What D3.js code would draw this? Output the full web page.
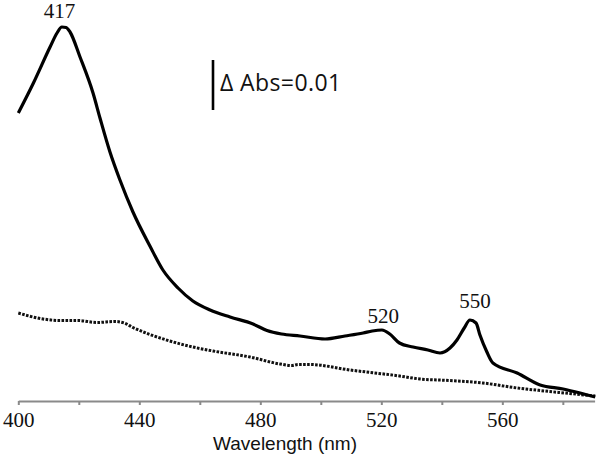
<!DOCTYPE html>
<html lang="en">
<head>
    <meta charset="UTF-8">
    <title>Spectrum</title>
    <script type="text/javascript" src="https://cdn.jsdelivr.net/npm/d3@7/dist/d3.min.js"></script>
    <style>
        body { margin: 0; background: #fff; }
        .axis path,
        .axis line {
            fill: none;
            stroke: #8a8a8a;
            stroke-width: 2;
        }
        .axis text {
            font-family: "Liberation Serif", serif;
            font-size: 21px;
            fill: #111;
        }
    </style>
</head>
<body>
<script type="text/javascript">
    let width = 600;
    let height = 462;

    // wavelength (nm) / absorbance
    let solidNm = [400, 405, 410.5, 412.8, 414.4, 415.8, 417.1, 420.4, 424.7, 427, 430.3, 433.6, 437.9,
        443.5, 447.8, 452.8, 457.7, 463.4, 470, 477.6, 482.2, 487, 493.1, 501.4, 508, 514, 517, 520.2,
        522.8, 526, 530.5, 535.4, 539.4, 542.7, 545, 547.4, 549.3, 551.3, 552.6, 554.9, 556.9,
        564.9, 572.5, 580.1, 585.7, 590.7];
    let solidAbs = [0.0576, 0.0636, 0.0708, 0.0736, 0.0748, 0.0747, 0.0738, 0.0688, 0.0616, 0.0566, 0.0498, 0.0442, 0.0378,
        0.0310, 0.0262, 0.0226, 0.0200, 0.0182, 0.0168, 0.0154, 0.0141, 0.0134, 0.0130, 0.0124, 0.0130, 0.0136, 0.0140, 0.0142,
        0.0134, 0.0116, 0.0108, 0.0102, 0.0096, 0.0106, 0.0122, 0.0146, 0.0162, 0.0156, 0.0132, 0.0098, 0.0076,
        0.0056, 0.0032, 0.0024, 0.0016, 0.0008];

    let dottedNm = [400, 408.2, 413.8, 419.7, 426, 432, 435, 437.9, 443.5, 450.1, 457.7, 464.4, 476.6,
        486.5, 490.5, 492.5, 496.4, 509.6, 526, 532.8, 542.7, 553.6, 564.9, 575.7, 590.7];
    let dottedAbs = [0.0176, 0.0164, 0.0161, 0.0161, 0.0157, 0.0159, 0.0156, 0.0147, 0.0133, 0.0120, 0.0108, 0.0100, 0.0088,
        0.0074, 0.0071, 0.0073, 0.0073, 0.0062, 0.0050, 0.0044, 0.0041, 0.0036, 0.0026, 0.0019, 0.0010];

    let tickValues = [400, 420, 440, 460, 480, 500, 520, 540, 560, 580];
    let tickLabels = ['400', '', '440', '', '480', '', '520', '', '560', ''];

    let peakLabels = ['417', '520', '550'];
    let peakLabelNm = [413.6, 520.6, 551];
    let peakLabelAbs = [0.0766, 0.0156, 0.0186];

    let barBase = 0.0582;
    let barSize = 0.01;

    let svg = d3.select('body')
        .append('svg')
        .attr('width', width)
        .attr('height', height);

    let x = d3.scaleLinear()
        .domain([400, 590.5])
        .range([18.3, 594.6]);
    let y = d3.scaleLinear()
        .domain([0, 0.08])
        .range([401, 1]);

    let axis = d3.axisBottom(x)
        .tickValues(tickValues)
        .tickFormat(function (d, i) { return tickLabels[i]; })
        .tickSize(4)
        .tickSizeOuter(0)
        .tickPadding(5);

    let gx = svg.append('g')
        .attr('class', 'axis')
        .attr('transform', 'translate(0,' + y(0) + ')')
        .call(axis);
    gx.selectAll('text').attr('dy', '0.82em');

    svg.append('text')
        .attr('x', 285)
        .attr('y', 450)
        .attr('text-anchor', 'middle')
        .style('font-family', '"Liberation Sans", Arial, sans-serif')
        .style('font-size', '19px')
        .attr('fill', '#111')
        .text('Wavelength (nm)');

    let line = d3.line()
        .x(function (d) { return x(d[0]); })
        .y(function (d) { return y(d[1]); })
        .curve(d3.curveMonotoneX);

    svg.append('path')
        .datum(d3.zip(dottedNm, dottedAbs))
        .attr('d', line)
        .attr('fill', 'none')
        .attr('stroke', '#111')
        .attr('stroke-width', 3)
        .attr('stroke-dasharray', '2.6 1.4');

    svg.append('path')
        .datum(d3.zip(solidNm, solidAbs))
        .attr('d', line)
        .attr('fill', 'none')
        .attr('stroke', '#000')
        .attr('stroke-width', 3.2)
        .attr('stroke-linejoin', 'round');

    svg.selectAll('.peak')
        .data(peakLabels)
        .enter()
        .append('text')
        .attr('class', 'peak')
        .attr('x', function (d, i) { return x(peakLabelNm[i]); })
        .attr('y', function (d, i) { return y(peakLabelAbs[i]); })
        .attr('text-anchor', 'middle')
        .style('font-family', '"Liberation Serif", serif')
        .style('font-size', '21px')
        .attr('fill', '#111')
        .text(function (d) { return d; });

    // scale bar
    svg.append('line')
        .attr('x1', 213).attr('x2', 213)
        .attr('y1', y(barBase)).attr('y2', y(barBase + barSize))
        .attr('stroke', '#000')
        .attr('stroke-width', 2.6);

    svg.append('text')
        .attr('x', 220)
        .attr('y', 91)
        .style('font-family', '"Open Sans", sans-serif')
        .style('font-size', '23px')
        .style('letter-spacing', '0.4px')
        .attr('fill', '#111')
        .text('\u0394 Abs=0.01');
</script>
</body>
</html>
